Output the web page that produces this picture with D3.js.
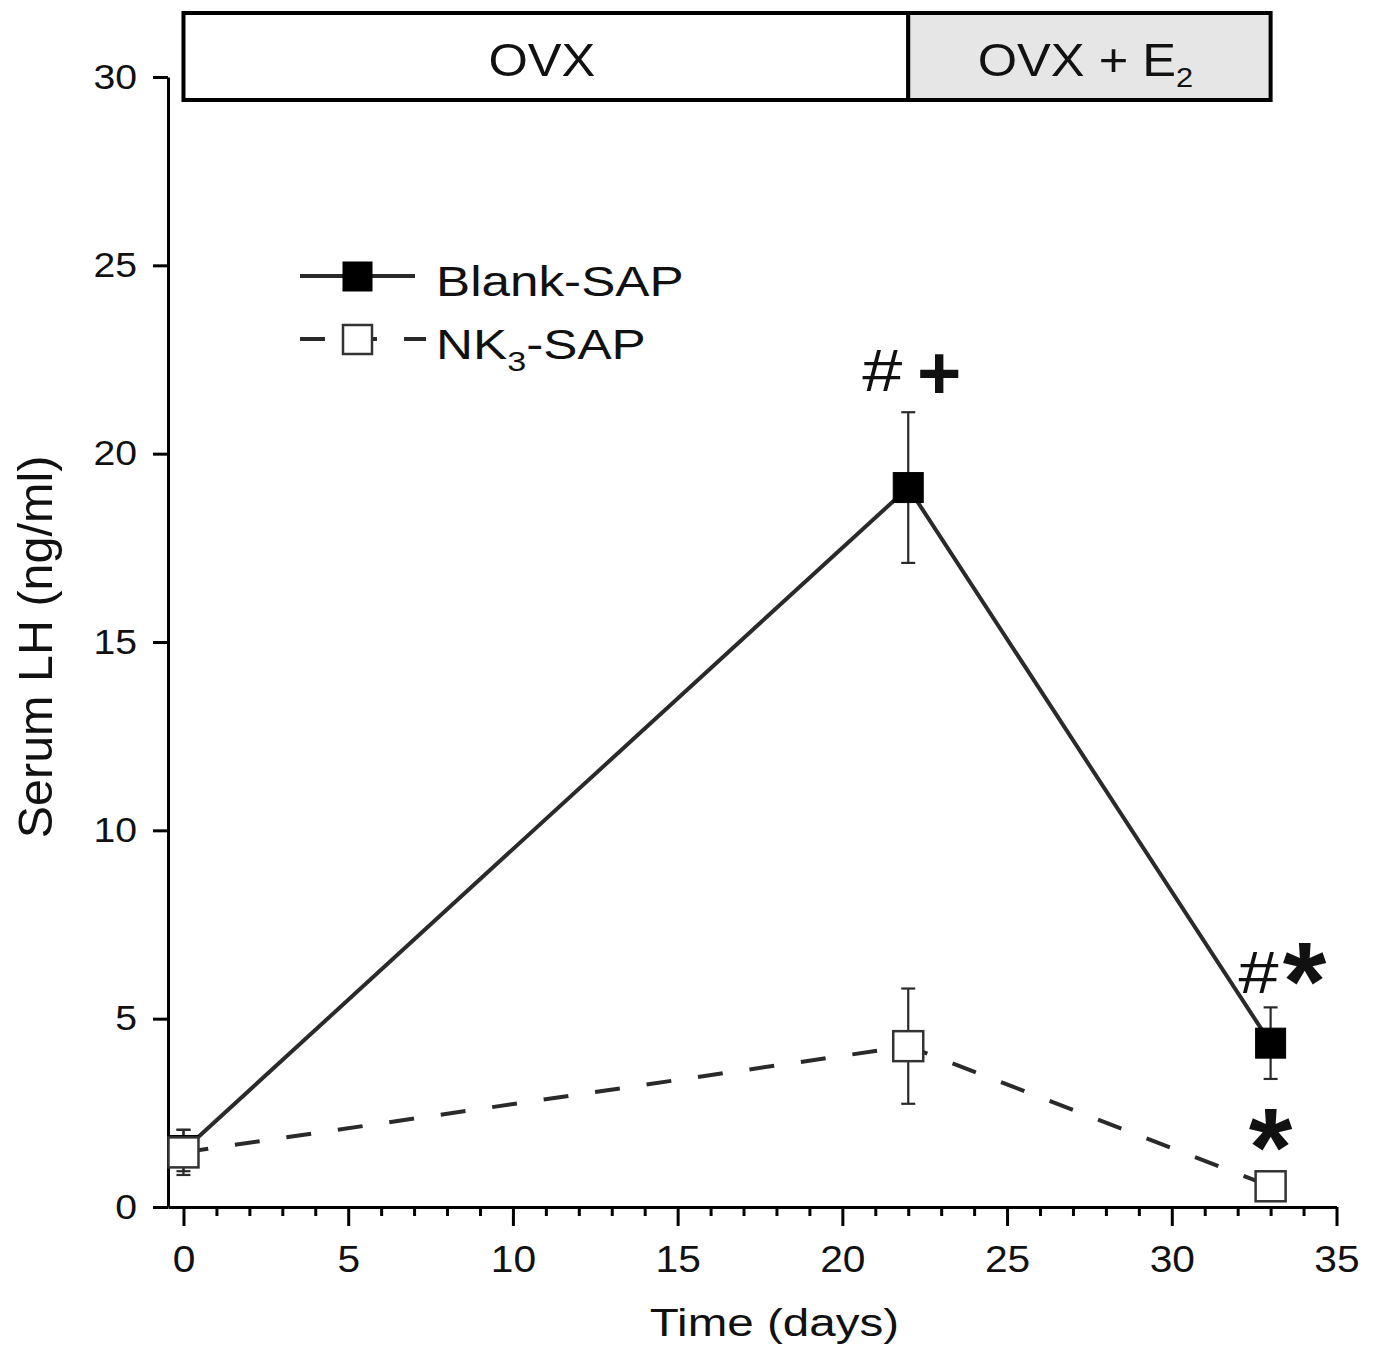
<!DOCTYPE html>
<html>
<head>
<meta charset="utf-8">
<script src="https://cdn.jsdelivr.net/npm/d3@7"></script>
<style>
  body { margin: 0; background: #fff; }
  text { font-family: "Liberation Sans", Arial, sans-serif; fill: #111; }
</style>
</head>
<body>
<div id="chart"></div>
<script>
// values
const days = [0, 22, 33];
const blankMean = [1.5, 19.1, 4.35];
const blankErr = [0.55, 2.0, 0.95];
const nk3Mean = [1.45, 4.27, 0.55];
const nk3Err = [0.6, 1.53, 0];

const xMajor = [0, 5, 10, 15, 20, 25, 30, 35];
const xMinor = d3.range(1, 35).filter(d => d % 5 !== 0);
const yMajor = [0, 5, 10, 15, 20, 25, 30];

const phaseLabels = ["OVX", "OVX + E"];
const phaseSubs = ["", "2"];
const phaseStart = [0, 22];
const phaseEnd = [22, 33];
const phaseFill = ["#fff", "#e6e6e6"];

const width = 1374, height = 1353;
const lineColor = "#2a2a2a";

const x = d3.scaleLinear().domain([-0.47, 35]).range([168, 1336.5]);
const y = d3.scaleLinear().domain([0, 30]).range([1207, 77]);

const svg = d3.select("#chart").append("svg")
    .attr("width", width)
    .attr("height", height)
    .attr("viewBox", [0, 0, width, height]);

// text drawn a bit wider than the font, like the original
function wideText(g, tx, ty, sx, size) {
  return g.append("text")
      .attr("transform", `translate(${tx},${ty}) scale(${sx},1)`)
      .attr("font-size", size);
}

// phase boxes on top
const boxTop = 13, boxBottom = 100;
const phases = svg.append("g").attr("id", "phases");
phaseLabels.forEach((lab, i) => {
  phases.append("rect")
      .attr("x", x(phaseStart[i]))
      .attr("y", boxTop)
      .attr("width", x(phaseEnd[i]) - x(phaseStart[i]))
      .attr("height", boxBottom - boxTop)
      .attr("fill", phaseFill[i])
      .attr("stroke", "#000")
      .attr("stroke-width", 4);
  const t = wideText(phases, (x(phaseStart[i]) + x(phaseEnd[i])) / 2 - 4, 76, 1.1, 46)
      .attr("text-anchor", "middle")
      .attr("fill", "#2a2a2a");
  t.append("tspan").text(lab);
  if (phaseSubs[i]) {
    t.append("tspan").attr("font-size", 28).attr("dy", 11).text(phaseSubs[i]);
  }
});

// axes
const yAxis = svg.append("g")
    .attr("transform", `translate(${x(-0.47)},0)`)
    .call(d3.axisLeft(y).tickValues(yMajor).tickSize(15).tickSizeOuter(0).tickPadding(0));
yAxis.select(".domain").attr("stroke-width", 3);
yAxis.selectAll(".tick line").attr("stroke-width", 3);
yAxis.selectAll(".tick text")
    .attr("x", 0)
    .attr("transform", "translate(-31,0) scale(1.12,1)")
    .attr("font-size", 35)
    .attr("font-family", null)
    .attr("fill", "#111");

const xAxis = svg.append("g")
    .attr("transform", `translate(0,${y(0)})`)
    .call(d3.axisBottom(x).tickValues(xMajor).tickSize(19).tickSizeOuter(0).tickPadding(20));
xAxis.select(".domain").attr("stroke-width", 3);
xAxis.selectAll(".tick line").attr("stroke-width", 3);
xAxis.selectAll(".tick text")
    .attr("transform", "scale(1.1,1)")
    .attr("font-size", 37)
    .attr("font-family", null)
    .attr("fill", "#111");

const xMinorAxis = svg.append("g")
    .attr("transform", `translate(0,${y(0)})`)
    .call(d3.axisBottom(x).tickValues(xMinor).tickSize(9).tickFormat(""));
xMinorAxis.select(".domain").remove();
xMinorAxis.selectAll(".tick line").attr("stroke-width", 3);

// axis titles
wideText(svg, 774.5, 1336, 1.22, 39)
    .attr("text-anchor", "middle")
    .text("Time (days)");

svg.append("text")
    .attr("transform", `translate(52,647) rotate(-90)`)
    .attr("text-anchor", "middle")
    .attr("font-size", 48.5)
    .text("Serum LH (ng/ml)");

// series
const blank = days.map((d, i) => ({ day: d, v: blankMean[i], e: blankErr[i] }));
const nk3 = days.map((d, i) => ({ day: d, v: nk3Mean[i], e: nk3Err[i] }));

const line = d3.line().x(d => x(d.day)).y(d => y(d.v));

svg.append("path")
    .datum(blank)
    .attr("d", line)
    .attr("fill", "none")
    .attr("stroke", lineColor)
    .attr("stroke-width", 4);

svg.append("path")
    .datum(nk3)
    .attr("d", line)
    .attr("fill", "none")
    .attr("stroke", lineColor)
    .attr("stroke-width", 4)
    .attr("stroke-dasharray", "25,27");

function errorBars(data) {
  const g = svg.append("g").attr("stroke", lineColor).attr("stroke-width", 2.2);
  data.filter(d => d.e > 0).forEach(d => {
    g.append("line")
        .attr("x1", x(d.day)).attr("x2", x(d.day))
        .attr("y1", y(d.v - d.e)).attr("y2", y(d.v + d.e));
    [d.v - d.e, d.v + d.e].forEach(v => {
      g.append("line")
          .attr("x1", x(d.day) - 7).attr("x2", x(d.day) + 7)
          .attr("y1", y(v)).attr("y2", y(v));
    });
  });
}
errorBars(blank);
errorBars(nk3);

const markSize = 30;
function markers(data, fill, stroke, sw) {
  svg.append("g").selectAll("rect")
    .data(data)
    .join("rect")
      .attr("x", d => x(d.day) - markSize / 2)
      .attr("y", d => y(d.v) - markSize / 2)
      .attr("width", markSize)
      .attr("height", markSize)
      .attr("fill", fill)
      .attr("stroke", stroke)
      .attr("stroke-width", sw);
}
markers(blank, "#000", "#000", 1);
markers(nk3, "#fff", "#333", 2.5);

// significance marks
const ann = svg.append("g");
function hash(cx, baseline) {
  wideText(ann, cx, baseline, 1.2, 60)
      .attr("text-anchor", "middle")
      .attr("fill", "#2a2a2a")
      .text("#");
}
function bold(cx, baseline, ch, size) {
  ann.append("text")
      .attr("x", cx).attr("y", baseline)
      .attr("text-anchor", "middle")
      .attr("font-size", size)
      .attr("font-weight", "bold")
      .attr("fill", "#2a2a2a")
      .text(ch);
}
const b22 = blank[1], b33 = blank[2], n33 = nk3[2];
hash(x(b22.day) - 26, y(b22.v + b22.e) - 21);
bold(x(b22.day) + 31, y(b22.v + b22.e) - 13, "+", 76);
hash(x(b33.day) - 12, y(b33.v + b33.e) - 14);
bold(x(b33.day) + 34, y(b33.v + b33.e) + 13, "*", 112);
bold(x(n33.day), y(n33.v), "*", 112);

// legend
const legend = svg.append("g");
const rows = [
  { y: 276, dash: null, fill: "#000", stroke: "#000", name: "Blank-SAP", sub: "" },
  { y: 339, dash: "25,27", fill: "#fff", stroke: "#333", name: "NK", sub: "3" }
];
rows.forEach(r => {
  legend.append("line")
      .attr("x1", 300).attr("x2", r.dash ? 426 : 415)
      .attr("y1", r.y).attr("y2", r.y)
      .attr("stroke", lineColor)
      .attr("stroke-width", 4)
      .attr("stroke-dasharray", r.dash);
  legend.append("rect")
      .attr("x", 343).attr("y", r.y - 14)
      .attr("width", 29).attr("height", 29)
      .attr("fill", r.fill)
      .attr("stroke", r.stroke)
      .attr("stroke-width", r.dash ? 2.5 : 1);
  const t = wideText(legend, 436, r.y + 20, 1.22, 42);
  t.append("tspan").text(r.name);
  if (r.sub) {
    t.append("tspan").attr("font-size", 28).attr("dy", 12).text(r.sub);
    t.append("tspan").attr("dy", -12).text("-SAP");
  }
});
</script>
</body>
</html>
